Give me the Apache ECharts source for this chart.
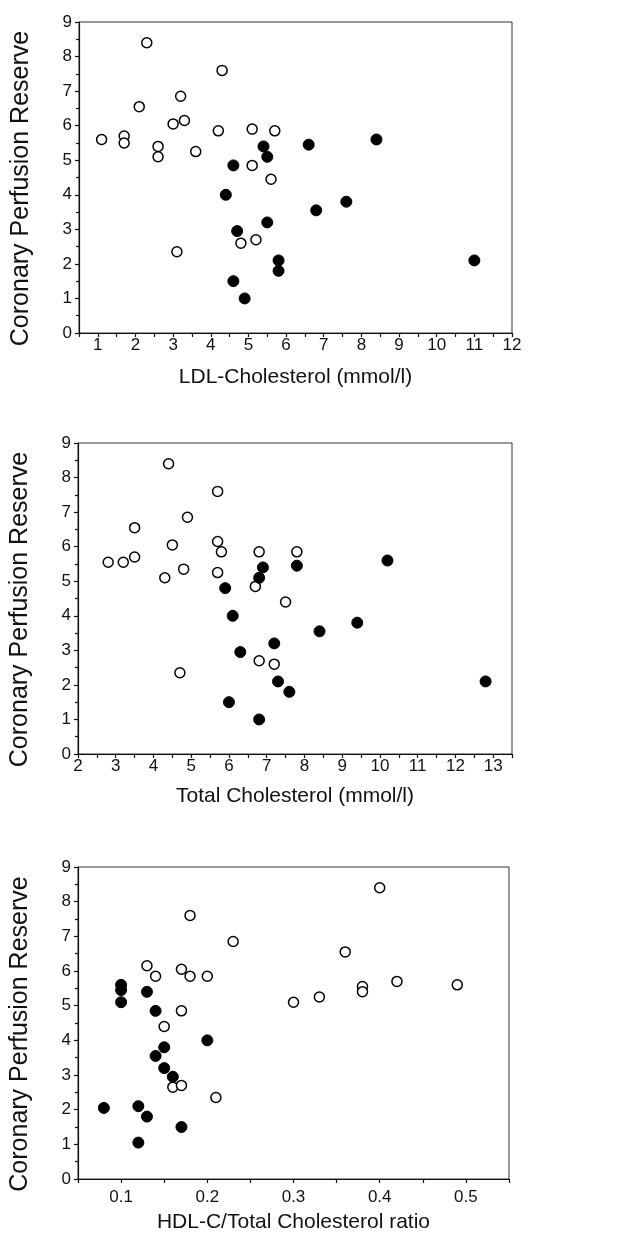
<!DOCTYPE html>
<html>
<head>
<meta charset="utf-8">
<script src="https://cdn.jsdelivr.net/npm/echarts@6/dist/echarts.min.js"></script>
<style>
  html, body { margin: 0; padding: 0; background: #fff; }
  #chart { width: 636px; height: 1235px; }
</style>
</head>
<body>
<div id="chart"></div>
<script>
// LDL-Cholesterol vs coronary perfusion reserve
const ldlOpen = [[1.1,5.6],[1.7,5.7],[1.7,5.5],[2.3,8.4],[2.1,6.55],[2.6,5.4],[2.6,5.1],[3.0,6.05],[3.3,6.15],[3.2,6.85],[3.6,5.25],[4.2,5.85],[4.3,7.6],[5.1,5.9],[5.7,5.85],[5.1,4.85],[5.6,4.45],[3.1,2.35],[4.8,2.6],[5.2,2.7]]
const ldlFilled = [[4.6,4.85],[4.4,4.0],[5.4,5.4],[5.5,5.1],[6.6,5.45],[8.4,5.6],[4.7,2.95],[5.5,3.2],[6.8,3.55],[7.6,3.8],[5.8,2.1],[5.8,1.8],[4.6,1.5],[4.9,1.0],[11.0,2.1]]

// Total cholesterol
const totalOpen = [[2.8,5.55],[3.2,5.55],[3.5,5.7],[3.5,6.55],[4.4,8.4],[4.5,6.05],[4.3,5.1],[4.8,5.35],[4.9,6.85],[5.7,7.6],[5.7,6.15],[5.8,5.85],[5.7,5.25],[6.8,5.85],[6.7,4.85],[7.8,5.85],[7.5,4.4],[4.7,2.35],[6.8,2.7],[7.2,2.6]]
const totalFilled = [[5.9,4.8],[6.1,4.0],[6.8,5.1],[6.9,5.4],[7.8,5.45],[10.2,5.6],[9.4,3.8],[8.4,3.55],[7.2,3.2],[6.3,2.95],[7.3,2.1],[7.6,1.8],[6.0,1.5],[6.8,1.0],[12.8,2.1]]

// HDL-C / total cholesterol ratio
const ratioOpen = [[0.13,6.15],[0.14,5.85],[0.17,6.05],[0.18,5.85],[0.18,7.6],[0.20,5.85],[0.23,6.85],[0.17,4.85],[0.15,4.4],[0.30,5.1],[0.33,5.25],[0.36,6.55],[0.38,5.55],[0.38,5.4],[0.40,8.4],[0.42,5.7],[0.49,5.6],[0.16,2.65],[0.17,2.7],[0.21,2.35]]
const ratioFilled = [[0.10,5.6],[0.10,5.45],[0.10,5.1],[0.13,5.4],[0.14,4.85],[0.20,4.0],[0.15,3.8],[0.14,3.55],[0.15,3.2],[0.16,2.95],[0.08,2.05],[0.12,2.1],[0.13,1.8],[0.17,1.5],[0.12,1.05]]

const xNames = ['LDL-Cholesterol (mmol/l)', 'Total Cholesterol (mmol/l)', 'HDL-C/Total Cholesterol ratio']
const yName = 'Coronary Perfusion Reserve'

const font = "'Liberation Sans', Arial, sans-serif"
const lineStyle = { color: '#111', width: 1.2 }

const grids = [
  { left: 79, top: 22, width: 433, height: 311 },
  { left: 77, top: 443, width: 435, height: 311 },
  { left: 77, top: 867, width: 432, height: 312 }
].map(g => ({ ...g, show: true, borderColor: '#333', borderWidth: 1 }))

const intLabel = v => Number.isInteger(Math.round(v * 100) / 100) ? String(Math.round(v)) : ''
const xRanges = [
  { min: 0.5, max: 12, interval: 0.5, fmt: intLabel, gap: 34 },
  { min: 2, max: 13.5, interval: 0.5, fmt: intLabel, gap: 32 },
  { min: 0.05, max: 0.55, interval: 0.05, fmt: v => Math.round(v * 100) % 10 === 0 ? (Math.round(v * 10) / 10).toFixed(1) : '', gap: 33 }
]

const xAxis = xRanges.map((r, i) => ({
  type: 'value',
  gridIndex: i,
  min: r.min,
  max: r.max,
  interval: r.interval,
  name: xNames[i],
  nameLocation: 'middle',
  nameGap: r.gap,
  nameTextStyle: { fontFamily: font, fontSize: 21, color: '#111' },
  axisLine: { lineStyle },
  axisTick: { inside: false, length: 4, lineStyle },
  axisLabel: { fontFamily: font, fontSize: 17, color: '#111', margin: i === 2 ? 10 : 4, formatter: r.fmt },
  splitLine: { show: false }
}))

const yAxis = [0, 1, 2].map(i => ({
  type: 'value',
  gridIndex: i,
  min: 0,
  max: 9,
  interval: 1,
  name: yName,
  nameLocation: 'middle',
  nameGap: 45,
  nameTextStyle: { fontFamily: font, fontSize: 25, color: '#111', padding: [0, 22, 0, 0] },
  axisLine: { lineStyle },
  axisTick: { inside: false, length: 4, lineStyle },
  minorTick: { show: true, splitNumber: 2, length: 3, lineStyle },
  axisLabel: { fontFamily: font, fontSize: 17, color: '#111', margin: 7 },
  splitLine: { show: false }
}))

const openStyle = { color: '#fff', borderColor: '#000', borderWidth: 1.5, opacity: 1 }
const filledStyle = { color: '#000', borderColor: '#000', borderWidth: 1, opacity: 1 }

const sets = [[ldlOpen, ldlFilled], [totalOpen, totalFilled], [ratioOpen, ratioFilled]]
const series = []
sets.forEach(([open, filled], i) => {
  series.push({ type: 'scatter', xAxisIndex: i, yAxisIndex: i, data: open, symbolSize: 10, itemStyle: openStyle })
  series.push({ type: 'scatter', xAxisIndex: i, yAxisIndex: i, data: filled, symbolSize: 11, itemStyle: filledStyle })
})

const chart = echarts.init(document.getElementById('chart'))
chart.setOption({
  animation: false,
  backgroundColor: '#fff',
  grid: grids,
  xAxis,
  yAxis,
  series
})
</script>
</body>
</html>
